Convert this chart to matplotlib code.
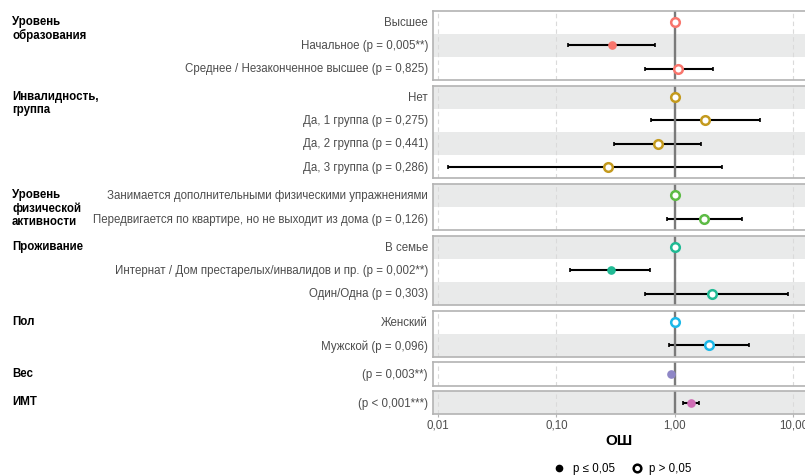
import numpy as np
import matplotlib
matplotlib.use("Agg")
import matplotlib.pyplot as plt

plt.rcParams['font.family'] = ['Liberation Sans', 'DejaVu Sans']

# группы (фасеты) и их цвета
group_names = ["Уровень\nобразования", "Инвалидность,\nгруппа",
               "Уровень\nфизической\nактивности", "Проживание", "Пол", "Вес", "ИМТ"]
group_colors = ["#F8766D", "#C49A1E", "#5DBB45", "#20BA94", "#1CB8E8", "#8E86C6", "#CF6DB5"]

# строки графика
row_group = [0, 0, 0, 1, 1, 1, 1, 2, 2, 3, 3, 3, 4, 4, 5, 6]
row_labels = [
    "Высшее",
    "Начальное (p = 0,005**)",
    "Среднее / Незаконченное высшее (p = 0,825)",
    "Нет",
    "Да, 1 группа (p = 0,275)",
    "Да, 2 группа (p = 0,441)",
    "Да, 3 группа (p = 0,286)",
    "Занимается дополнительными физическими упражнениями",
    "Передвигается по квартире, но не выходит из дома (p = 0,126)",
    "В семье",
    "Интернат / Дом престарелых/инвалидов и пр. (p = 0,002**)",
    "Один/Одна (p = 0,303)",
    "Женский",
    "Мужской (p = 0,096)",
    "(p = 0,003**)",
    "(p < 0,001***)",
]
odds = [1.0, 0.294, 1.07, 1.0, 1.79, 0.72, 0.27, 1.0, 1.76, 1.0, 0.29, 2.07, 1.0, 1.94, 0.93, 1.37]
ci_low = [np.nan, 0.124, 0.555, np.nan, 0.63, 0.307, 0.0122, np.nan, 0.86,
          np.nan, 0.131, 0.555, np.nan, 0.895, 0.92, 1.18]
ci_high = [np.nan, 0.682, 2.10, np.nan, 5.23, 1.67, 2.51, np.nan, 3.71,
           np.nan, 0.618, 9.07, np.nan, 4.25, 0.94, 1.60]
significant = [False, True, False, False, False, False, False, False, False,
               False, True, False, False, False, True, True]

x_ticks = [0.01, 0.1, 1, 10]
x_ticklabels = ["0,01", "0,10", "1,00", "10,00"]

W, H = 805, 477
fig = plt.figure(figsize=(W / 100, H / 100), dpi=100)

left_px, right_px = 432.5, 806
top_px, row_h, gap = 11.5, 23.2, 5.4
stripe = "#E9EAEA"
text_grey = "#4D4D4D"
fs = 8.3

y_cur = top_px
global_row = 0
axes = []
for g, gname in enumerate(group_names):
    idx = [i for i, rg in enumerate(row_group) if rg == g]
    n = len(idx)
    h = n * row_h
    ax = fig.add_axes([left_px / W, 1 - (y_cur + h) / H, (right_px - left_px) / W, h / H])
    axes.append(ax)
    ax.set_xscale("log")
    ax.set_xlim(0.00897, 12.8)
    ax.set_ylim(n - 0.5, -0.5)
    for k, i in enumerate(idx):
        if (global_row + k) % 2 == 1:
            ax.axhspan(k - 0.5, k + 0.5, color=stripe, lw=0, zorder=0)
    for t in x_ticks:
        ax.axvline(t, color="#DADADA", lw=0.8, ls=(0, (4, 3)), zorder=0.5)
    ax.axvline(1, color="#7A7A7A", lw=1.7, zorder=2.5)
    for k, i in enumerate(idx):
        if not np.isnan(ci_low[i]):
            ax.errorbar(odds[i], k, xerr=[[odds[i] - ci_low[i]], [ci_high[i] - odds[i]]],
                        fmt="none", ecolor="black", elinewidth=1.5, capsize=1.6,
                        capthick=1.2, zorder=2)
        if significant[i]:
            ax.plot(odds[i], k, "o", ms=5.2, color=group_colors[g], mec=group_colors[g],
                    zorder=3)
        else:
            ax.plot(odds[i], k, "o", ms=6.2, mfc="white", mec=group_colors[g],
                    mew=1.8, zorder=3)
        ax.text(428 / W, 1 - ((y_cur + (k + 0.5) * row_h) / H), row_labels[i],
                transform=fig.transFigure, ha="right", va="center",
                fontsize=fs, color=text_grey)
    for s in ax.spines.values():
        s.set_color("#B3B3B3")
        s.set_linewidth(1.2)
    ax.set_yticks([])
    ax.minorticks_off()
    ax.set_xticks(x_ticks)
    ax.tick_params(axis="x", length=0, labelbottom=False)
    fig.text(12 / W, 1 - (y_cur + 4.5) / H, gname, ha="left", va="top",
             fontsize=fs, fontweight="bold", color="black", linespacing=1.12)
    global_row += n
    y_cur += h + gap

last = axes[-1]
last.tick_params(axis="x", length=2.2, color="#B3B3B3", width=0.8,
                 labelbottom=True, labelsize=fs, labelcolor=text_grey, pad=1)
last.set_xticklabels(x_ticklabels)
last.set_xlabel("ОШ", fontsize=11, fontweight="bold", labelpad=1.5)

# легенда
ly = 1 - 469 / H
fig.lines.append(plt.Line2D([559 / W], [ly], marker="o", ms=4.5, color="black",
                            transform=fig.transFigure))
fig.text(573 / W, ly, "p ≤ 0,05", ha="left", va="center", fontsize=fs, color="black")
fig.lines.append(plt.Line2D([637 / W], [ly], marker="o", ms=5.5, mfc="white", mec="black",
                            mew=1.8, transform=fig.transFigure))
fig.text(649 / W, ly, "p > 0,05", ha="left", va="center", fontsize=fs, color="black")

fig.savefig("out.png", dpi=100)
